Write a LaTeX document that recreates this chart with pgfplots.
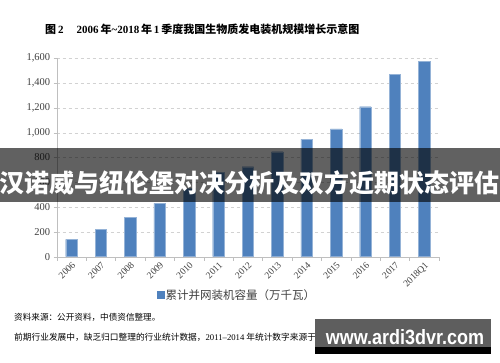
\documentclass[border=0pt]{standalone}
\usepackage{pgfplots}
\pgfplotsset{compat=1.18}
\usepackage{fontspec}
\setmainfont{Liberation Serif}
\newfontfamily\cjk{Noto Sans CJK SC}
\newfontfamily\wmfont{Liberation Sans}
\definecolor{barblue}{HTML}{4F81BD}
\definecolor{txtgray}{HTML}{404040}
\begin{document}
\begin{tikzpicture}
\useasboundingbox (0pt,0pt) rectangle (500pt,362pt);
\fill[white] (0pt,0pt) rectangle (500pt,362pt);
\node[anchor=base west, inner sep=0pt, font=\bfseries\fontsize{11}{13}\selectfont] at (45pt,328pt)
  {{\cjk 图}\,2\hspace{1.2em}2006\,{\cjk 年}\textasciitilde 2018\,{\cjk 年}\,1\,{\cjk 季度我国生物质发电装机规模增长示意图}};
\begin{axis}[
  at={(56.7pt,105.3pt)}, anchor=south west,
  scale only axis, width=382.3pt, height=198.4pt,
  xmin=-0.5, xmax=12.5, ymin=0, ymax=1600,
  axis x line*=bottom, axis y line*=left,
  axis line style={draw=gray!50, -},
  xtick={0,...,12},
  xticklabels={2006,2007,2008,2009,2010,2011,2012,2013,2014,2015,2016,2017,2018Q1},
  major x tick style={draw=none},
  minor xtick={-0.5,0.5,...,12.5},
  minor x tick style={draw=gray!50},
  minor tick length=4pt,
  ytick={0,200,...,1600},
  major y tick style={draw=gray!50},
  major tick length=3pt,
  tick align=outside,
  ymajorgrids, grid style={dashed, gray!35},
  /pgf/number format/assume math mode=true,
  /pgf/number format/1000 sep={,},
  yticklabel style={font=\fontsize{10.5}{12}\selectfont, text=txtgray},
  xticklabel style={rotate=45, anchor=north east, inner sep=1pt, font=\fontsize{9.5}{11}\selectfont, text=txtgray},
  ybar, bar width=11.5pt,
  legend style={at={(axis description cs:0.263,-0.193)}, anchor=west, draw=none, fill=none,
    font=\cjk\fontsize{11.5}{13}\selectfont, text=txtgray, inner sep=0pt,
    nodes={inner sep=1.5pt}},
  legend image code/.code={\fill[barblue] (0pt,-3pt) rectangle (6.5pt,3.5pt);},
]
\addplot[fill=barblue, draw=barblue!60!white, line width=0.3pt] coordinates {
 (0,140) (1,221) (2,315) (3,430) (4,550) (5,680) (6,726) (7,847) (8,947) (9,1030) (10,1210) (11,1473) (12,1573)};
\addlegendentry{累计并网装机容量（万千瓦）}
\end{axis}
\begin{scope}[x=1pt,y=1pt]
\node[anchor=base west, inner sep=0pt, font=\cjk\fontsize{8.6}{10}\selectfont] at (14,42)
  {资料来源：公开资料，中债资信整理。};
\node[anchor=base west, inner sep=0pt, font=\cjk\fontsize{8.7}{10}\selectfont] at (14,22)
  {前期行业发展中，缺乏归口整理的行业统计数据，{\rmfamily 2011–2014} 年统计数字来源于中国产业发展促进会生物质产业分会等。};
% banner overlay
\fill[black, opacity=0.62] (0,160) rectangle (500,214);
\node[anchor=base, inner sep=0pt, text=white, font=\cjk\bfseries\fontsize{25}{25}\selectfont] at (249.5,170)
  {汉诺威与纽伦堡对决分析及双方近期状态评估};
% watermark
\fill[black!63] (315,15.3) rectangle (491,42.7);
\fill[black] (315,7.7) rectangle (491,15.3);
\node[anchor=base, inner sep=0pt, text=white, yscale=1.15, font=\wmfont\bfseries\fontsize{18}{18}\selectfont] at (405,18)
  {www.ardi3dvr.com};
\end{scope}
\end{tikzpicture}
\end{document}
